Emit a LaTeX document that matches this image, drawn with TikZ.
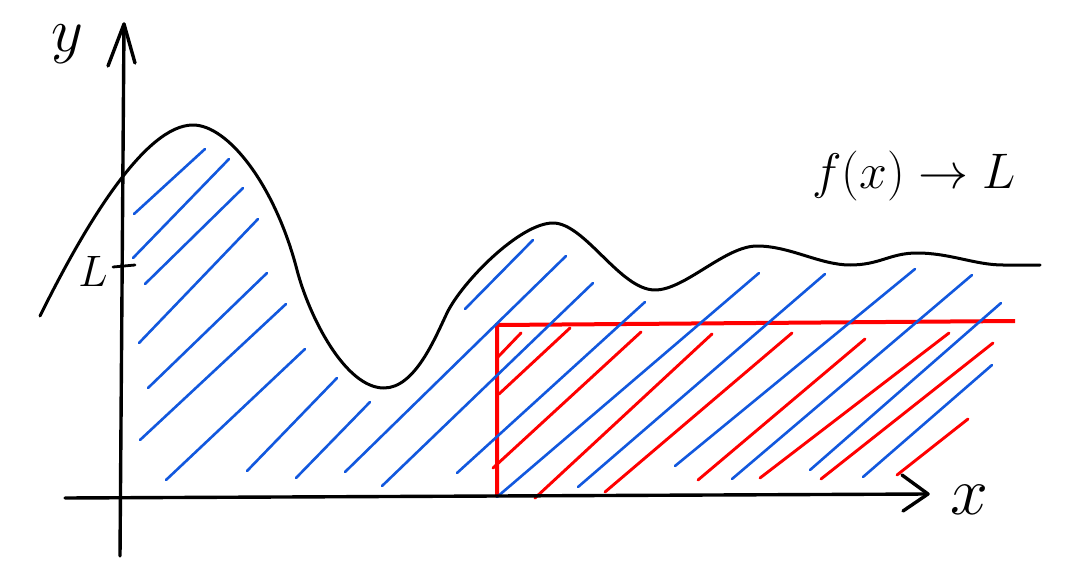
\RequirePackage{fix-cm}
\documentclass[tikz,border=0pt]{standalone}
\definecolor{hblue}{RGB}{18,88,222}
\definecolor{hred}{RGB}{255,0,0}
\begin{document}
\begin{tikzpicture}[x=1pt,y=-1pt,
  axis/.style={line width=3.4pt,line cap=round,line join=round},
  curve/.style={line width=3pt,line cap=round,line join=round},
  bluehatch/.style={hblue,line width=2.6pt,line cap=round},
  redhatch/.style={hred,line width=2.9pt,line cap=round},
  redbox/.style={hred,line width=4pt,line join=miter},
  lbl/.style={inner sep=0pt,outer sep=0pt}]
\useasboundingbox (0,0) rectangle (1073,572);

% named points
\coordinate (ybot) at (120,556);
\coordinate (ytip) at (124,24);
\coordinate (xleft) at (65,498);
\coordinate (xtip) at (928,494);
\coordinate (boxbl) at (497,497);
\coordinate (boxtl) at (497,325);
\coordinate (boxtr) at (1015,321);

% red box
\draw[redbox] (boxbl) -- (boxtl) -- (boxtr);

% blue hatching
\foreach \xa/\ya/\xb/\yb in {
  134/214/205/149, 133/258/229/159, 145/284/243/188, 139/343/258/219,
  148/388/267/273, 140/440/286/304, 166/480/305/349, 247/471/337/378,
  296/478/370/402, 345/472/566/256, 382/486/593/283, 457/473/645/302,
  497/497/759/273, 578/487/825/274, 675/466/915/269, 732/479/972/275,
  810/470/1001/303, 863/477/992/365, 465/309/533/240}
  \draw[bluehatch] (\xa,\ya) -- (\xb,\yb);

% red hatching
\foreach \xa/\ya/\xb/\yb in {
  497/358/521/333, 499/394/570/328, 493/468/641/332, 535/498/712/334,
  605/492/792/333, 698/480/865/339, 760/478/949/333, 821/479/993/343,
  897/475/968/419}
  \draw[redhatch] (\xa,\ya) -- (\xb,\yb);

% axes
\draw[axis] (ybot) -- (ytip);
\draw[axis] (108,66) -- (ytip) -- (135,63);
\draw[axis] (xleft) -- (xtip);
\draw[axis] (902,475) -- (xtip) -- (903,511);
\draw[axis,line width=2.8pt] (113,267) -- (135,265);

% function curve
\draw[curve] (40,316)
  .. controls (85,225) and (145,125) .. (193,125)
  .. controls (228,125) and (275,185) .. (297,270)
  .. controls (309,316) and (345,388) .. (384,388)
  .. controls (415,388) and (435,338) .. (447,313)
  .. controls (462,282) and (520,223) .. (553,223)
  .. controls (585,223) and (620,290) .. (655,290)
  .. controls (685,290) and (725,246) .. (757,246)
  .. controls (790,246) and (820,265) .. (850,265)
  .. controls (880,265) and (890,253) .. (917,253)
  .. controls (950,253) and (975,265) .. (1003,265)
  .. controls (1015,265) and (1028,265) .. (1040,265);

% labels
\node[lbl,font=\fontsize{62}{62}\selectfont] (ylab) at (67,44) {$y$};
\node[lbl,font=\fontsize{68}{68}\selectfont] (xlab) at (969,500) {$x$};
\node[lbl,font=\fontsize{44}{44}\selectfont,anchor=base] (Llab) at (93,286) {$L$};
\node[lbl,font=\fontsize{50}{50}\selectfont,anchor=base] (flab) at (914,189) {$f(x)\to L$};
\end{tikzpicture}
\end{document}
